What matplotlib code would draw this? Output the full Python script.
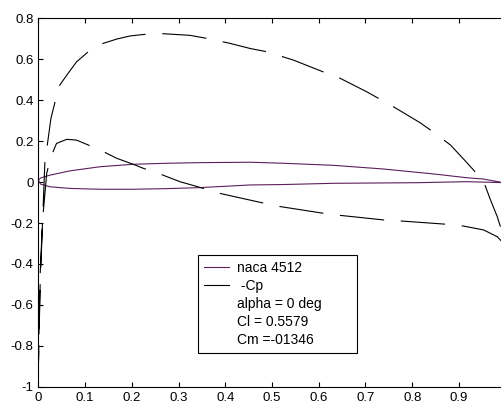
import matplotlib
matplotlib.use("Agg")
import matplotlib.pyplot as plt
from matplotlib.lines import Line2D

plt.rcParams['font.family'] = ['Liberation Sans', 'DejaVu Sans']
plt.rcParams['lines.scale_dashes'] = False

# airfoil surfaces (naca 4512)
x_upper = [0, 0.005, 0.025, 0.068, 0.132, 0.203, 0.275, 0.346, 0.454, 0.524,
           0.631, 0.738, 0.845, 0.918, 0.952, 1.0]
y_upper = [0.01, 0.02, 0.034, 0.055, 0.075, 0.087, 0.092, 0.095, 0.097, 0.092,
           0.082, 0.064, 0.040, 0.021, 0.015, -0.005]
x_lower = [0, 0.005, 0.025, 0.068, 0.132, 0.203, 0.275, 0.346, 0.454, 0.524,
           0.631, 0.81, 0.917, 1.0]
y_lower = [0.01, -0.01, -0.023, -0.031, -0.035, -0.035, -0.032, -0.027, -0.014,
           -0.012, -0.006, -0.003, 0.002, -0.003]

# -Cp, upper surface branch
x_cp_up = [0.0, 0.004, 0.009, 0.014, 0.027, 0.036, 0.046, 0.061, 0.082, 0.107,
           0.139, 0.168, 0.196, 0.232, 0.268, 0.325, 0.361, 0.41, 0.453, 0.489,
           0.546, 0.618, 0.646, 0.703, 0.76, 0.817, 0.846, 0.882, 0.917, 0.939,
           0.953, 0.967, 0.982, 1.0]
y_cp_up = [-0.92, -0.5, -0.2, 0.093, 0.311, 0.393, 0.474, 0.523, 0.588, 0.637,
           0.678, 0.699, 0.714, 0.723, 0.725, 0.717, 0.702, 0.678, 0.653, 0.637,
           0.596, 0.531, 0.507, 0.441, 0.368, 0.29, 0.243, 0.181, 0.095, 0.039,
           0.002, -0.084, -0.169, -0.3]
# -Cp, lower surface branch
x_cp_lo = [0.0, 0.004, 0.009, 0.018, 0.027, 0.039, 0.061, 0.082, 0.104, 0.132,
           0.168, 0.203, 0.225, 0.261, 0.303, 0.346, 0.382, 0.453, 0.51, 0.603,
           0.639, 0.739, 0.775, 0.867, 0.91, 0.953, 0.982, 1.0]
y_cp_lo = [-0.92, -0.45, -0.19, 0.043, 0.124, 0.189, 0.209, 0.205, 0.184, 0.157,
           0.116, 0.087, 0.067, 0.039, 0.002, -0.026, -0.052, -0.088, -0.117, -0.15,
           -0.161, -0.185, -0.19, -0.205, -0.215, -0.234, -0.267, -0.31]

x_ticks = [0, 0.1, 0.2, 0.3, 0.4, 0.5, 0.6, 0.7, 0.8, 0.9]
x_labels = ['0', '0.1', '0.2', '0.3', '0.4', '0.5', '0.6', '0.7', '0.8', '0.9']
y_ticks = [-1, -0.8, -0.6, -0.4, -0.2, 0, 0.2, 0.4, 0.6, 0.8]
y_labels = ['-1', '-0.8', '-0.6', '-0.4', '-0.2', '0', '0.2', '0.4', '0.6', '0.8']
legend_labels = ['naca 4512', ' -Cp', 'alpha = 0 deg', 'Cl = 0.5579', 'Cm =-01346']

purple = '#5c1f5c'

fig = plt.figure(figsize=(5.02, 4.03), dpi=100)
ax = fig.add_axes([0.0763, 0.0404, 0.931, 0.914])

foil_x = x_lower[::-1] + x_upper[1:]
foil_y = y_lower[::-1] + y_upper[1:]
ax.plot(foil_x, foil_y, color=purple, lw=0.8)

cp_x = x_cp_lo[::-1] + x_cp_up[1:]
cp_y = y_cp_lo[::-1] + y_cp_up[1:]
ax.plot(cp_x, cp_y, color='black', lw=0.8, dashes=(32, 12))

ax.set_xlim(0, 1)
ax.set_ylim(-1, 0.8)
ax.set_xticks(x_ticks)
ax.set_xticklabels(x_labels)
ax.set_yticks(y_ticks)
ax.set_yticklabels(y_labels)
ax.tick_params(direction='in', top=True, right=True, length=3.6, width=0.8,
               labelsize=9.5, colors='black')
ax.tick_params(axis='x', pad=4)
ax.tick_params(axis='y', pad=3.5)
for s in ax.spines.values():
    s.set_linewidth(0.8)

handles = [Line2D([], [], color=purple, lw=0.8),
           Line2D([], [], color='black', lw=0.8)]
handles += [Line2D([], [], color='none') for _ in range(3)]
leg = ax.legend(handles, legend_labels, loc='upper left',
                bbox_to_anchor=(198 / 502, 1 - 259 / 403, 159 / 502, 0.01),
                bbox_transform=fig.transFigure, mode='expand', borderaxespad=0,
                fontsize=10, fancybox=False, framealpha=1, edgecolor='black',
                borderpad=0.45, labelspacing=0.28, handlelength=1.75,
                handletextpad=0.6)
leg.get_frame().set_linewidth(0.8)

fig.savefig('out.png', dpi=100)
